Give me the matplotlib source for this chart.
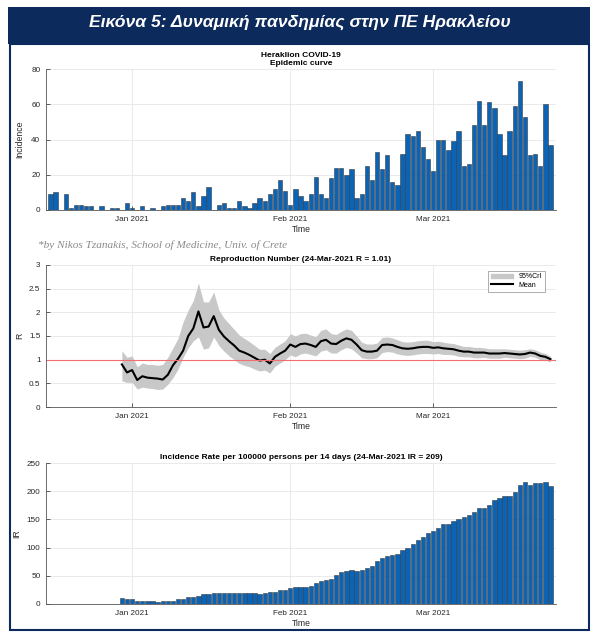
import numpy as np
import pandas as pd
from matplotlib import pyplot as plt
import matplotlib.dates as mdates
import matplotlib.patches as mpatches
from matplotlib.lines import Line2D
from matplotlib.ticker import FuncFormatter

plt.rcParams['font.family'] = ['Liberation Sans', 'DejaVu Sans']

# daily cases, 16-Dec-2020 .. 24-Mar-2021
incidence = [9, 10, 0, 9, 1, 3, 3, 2, 2, 0, 2, 0, 1, 1, 0, 4,
             1, 0, 2, 0, 1, 0, 2, 3, 3, 3, 7, 5, 10, 2, 8, 13, 0, 3, 4, 1, 1, 5, 2, 1, 4, 7, 5, 9, 12, 17, 11,
             3, 12,
             8, 5, 9, 19, 9, 7, 18, 24, 24, 20, 23, 7, 9, 25, 17, 33, 23, 31, 16, 14, 32, 43, 42, 45, 36, 29,
             22, 40, 40, 34, 39, 45, 25, 26, 48, 62, 48, 61, 58, 43, 31, 45, 59, 73, 53, 31, 32, 25, 60, 37]
inc_start = "2020-12-16"

# reproduction number, 30-Dec-2020 .. 24-Mar-2021
r_mean = [0.90, 0.73, 0.78, 0.57, 0.65, 0.62, 0.61, 0.60, 0.58, 0.68, 0.88, 1.02, 1.19, 1.50, 1.66, 2.02,
          1.68, 1.70, 1.92, 1.63, 1.49, 1.39, 1.30, 1.19, 1.15, 1.10, 1.04, 0.98, 1.00, 0.92, 1.06, 1.13,
          1.19, 1.32, 1.27,
          1.33, 1.34, 1.31, 1.27, 1.39, 1.42, 1.34, 1.33, 1.40, 1.45, 1.42, 1.32, 1.20, 1.17, 1.17, 1.19,
          1.31, 1.32, 1.31, 1.27, 1.24, 1.23, 1.24, 1.26, 1.27, 1.27, 1.25, 1.26, 1.24, 1.23, 1.22, 1.19,
          1.17, 1.17, 1.15, 1.15, 1.15, 1.13, 1.13, 1.13, 1.14, 1.13, 1.12, 1.11, 1.12, 1.15, 1.13, 1.08,
          1.06, 1.01]
r_upper = [1.19, 1.05, 1.08, 0.85, 0.93, 0.90, 0.90, 0.88, 0.90, 1.05, 1.25, 1.45, 1.80, 2.05, 2.25, 2.62,
           2.22, 2.22, 2.43, 2.05, 1.88, 1.76, 1.64, 1.52, 1.45, 1.38, 1.30, 1.22, 1.22, 1.13, 1.26, 1.33,
           1.40, 1.55, 1.50,
           1.55, 1.56, 1.52, 1.48, 1.62, 1.65, 1.55, 1.53, 1.60, 1.65, 1.62, 1.50, 1.37, 1.33, 1.33, 1.35,
           1.47, 1.48, 1.46, 1.42, 1.38, 1.37, 1.38, 1.40, 1.41, 1.41, 1.38, 1.39, 1.37, 1.35, 1.34, 1.31,
           1.28, 1.28, 1.26, 1.26, 1.25, 1.23, 1.23, 1.23, 1.23, 1.22, 1.21, 1.20, 1.21, 1.23, 1.21, 1.16,
           1.13, 1.07]
r_lower = [0.55, 0.52, 0.52, 0.38, 0.42, 0.40, 0.39, 0.37, 0.38, 0.48, 0.62, 0.80, 1.05, 1.25, 1.40, 1.48,
           1.22, 1.25, 1.48, 1.30, 1.18, 1.08, 1.00, 0.92, 0.88, 0.85, 0.80, 0.76, 0.78, 0.72, 0.86, 0.93,
           1.00, 1.10, 1.06,
           1.12, 1.14, 1.11, 1.08, 1.18, 1.21, 1.14, 1.14, 1.21, 1.26, 1.23, 1.14, 1.04, 1.02, 1.02, 1.04,
           1.15, 1.17, 1.16, 1.12, 1.10, 1.09, 1.10, 1.12, 1.13, 1.13, 1.12, 1.13, 1.11, 1.11, 1.10, 1.07,
           1.06, 1.06, 1.04, 1.04, 1.05, 1.03, 1.03, 1.03, 1.05, 1.04, 1.03, 1.02, 1.03, 1.07, 1.05, 1.00,
           0.99, 0.95]
r_start = "2020-12-30"

# 14-day incidence rate per 100000, 30-Dec-2020 .. 24-Mar-2021
ir = [10.6, 9, 9, 6, 6, 5, 4.5, 4, 5, 5, 6, 8, 9, 12, 12, 15, 18, 18, 19, 20, 20, 20, 20, 20, 19, 19,
      19, 18, 19, 21, 22, 25, 25, 28, 30,
      31, 31, 32, 38, 41, 42, 45, 51, 56, 58, 61, 58, 61, 64, 68, 76, 81, 85, 87, 89, 95, 100, 106, 114,
      118, 126, 130, 134, 142, 142, 148, 151, 154, 158, 164, 170, 171, 176, 184, 188, 191, 192, 198,
      211, 216, 211, 214, 214, 216, 209]
ir_start = "2020-12-30"

month_ticks = pd.to_datetime(["2021-01-01", "2021-02-01", "2021-03-01"])
x_lim = (pd.Timestamp("2020-12-15 03:00"), pd.Timestamp("2021-03-25 02:00"))

bar_blue = "#0b63b6"
txt = "#262626"

fig = plt.figure(figsize=(6, 6.43), dpi=100)

# banner + panel frame
fig.patches.append(mpatches.Rectangle((8/600, 1-44/643), 582/600, 37/643, transform=fig.transFigure,
                                      facecolor="#0c2a5b", edgecolor="none"))
fig.patches.append(mpatches.Rectangle((9.5/600, 1-630/643), 579/600, 586/643, transform=fig.transFigure,
                                      facecolor="none", edgecolor="#0c2a5b", lw=1.5))
fig.text(0.5, 1-22/643, "Εικόνα 5: Δυναμική πανδημίας στην ΠΕ Ηρακλείου", color="white",
         fontsize=12.6, fontweight="bold", fontstyle="italic", ha="center", va="center",
         family=["Liberation Sans Narrow", "Liberation Sans", "DejaVu Sans"])
fig.text(38/600, 1-245/643, "*by Nikos Tzanakis, School of Medicine, Univ. of Crete", color="#8a8a8a",
         fontsize=8.1, fontstyle="italic", ha="left", va="center",
         family=["Liberation Serif", "DejaVu Serif"])


def style_axes(ax, yticks, ylabel, label_x):
    ax.set_xlim(x_lim)
    ax.set_ylim(yticks[0], yticks[-1])
    ax.set_yticks(yticks)
    ax.yaxis.set_major_formatter(FuncFormatter(lambda v, p: f"{v:g}"))
    ax.set_xticks(month_ticks)
    ax.xaxis.set_major_formatter(mdates.DateFormatter("%b %Y"))
    ax.tick_params(direction="in", length=3, width=0.5, labelsize=5.9, colors=txt, pad=4)
    for s in ["top", "right"]:
        ax.spines[s].set_visible(False)
    for s in ["left", "bottom"]:
        ax.spines[s].set_color("#555555")
        ax.spines[s].set_linewidth(0.6)
    ax.set_axisbelow(True)
    ax.grid(color="#e6e6e6", linewidth=0.6)
    ax.set_xlabel("Time", fontsize=6.2, color=txt, labelpad=2)
    ax.set_ylabel(ylabel, fontsize=6.2, color=txt)
    ax.yaxis.set_label_coords(label_x, 0.5)


left, width = 46/600, 510/600

# epidemic curve
ax1 = fig.add_axes([left, 1-210/643, width, 141/643])
d1 = pd.date_range(inc_start, periods=len(incidence), freq="D")
ax1.bar(d1, incidence, width=0.85, color=bar_blue, edgecolor="#3a3a3a", linewidth=0.4)
style_axes(ax1, [0, 20, 40, 60, 80], "Incidence", -0.042)
ax1.set_title("Heraklion COVID-19\nEpidemic curve", fontsize=6, fontweight="bold", pad=3, linespacing=1.2)

# reproduction number
ax2 = fig.add_axes([left, 1-407/643, width, 142/643])
d2 = pd.date_range(r_start, periods=len(r_mean), freq="D")
ax2.fill_between(d2, r_lower, r_upper, color="#c8c8c8", linewidth=0, label="95%CrI")
ax2.plot(d2, r_mean, color="black", lw=1.5, label="Mean")
ax2.axhline(1, color="#f07070", lw=0.8)
style_axes(ax2, [0, 0.5, 1, 1.5, 2, 2.5, 3], "R", -0.042)
ax2.set_title("Reproduction Number (24-Mar-2021 R = 1.01)", fontsize=6, fontweight="bold", pad=3)
handles = [mpatches.Patch(color="#c8c8c8", label="95%CrI"), Line2D([], [], color="black", lw=1.5, label="Mean")]
leg = ax2.legend(handles=handles, loc="upper right", fontsize=5, frameon=True, fancybox=False,
                 edgecolor="#888888", handlelength=3.2, borderpad=0.4, labelspacing=0.2,
                 bbox_to_anchor=(0.985, 0.985), markerfirst=True)
leg.get_frame().set_linewidth(0.6)

# incidence rate
ax3 = fig.add_axes([left, 1-604/643, width, 141/643])
d3 = pd.date_range(ir_start, periods=len(ir), freq="D")
ax3.bar(d3, ir, width=0.85, color=bar_blue, edgecolor="#3a3a3a", linewidth=0.4)
style_axes(ax3, [0, 50, 100, 150, 200, 250], "IR", -0.048)
ax3.set_title("Incidence Rate per 100000 persons per 14 days (24-Mar-2021 IR = 209)", fontsize=6,
              fontweight="bold", pad=3)

fig.savefig("out.png", dpi=100)
